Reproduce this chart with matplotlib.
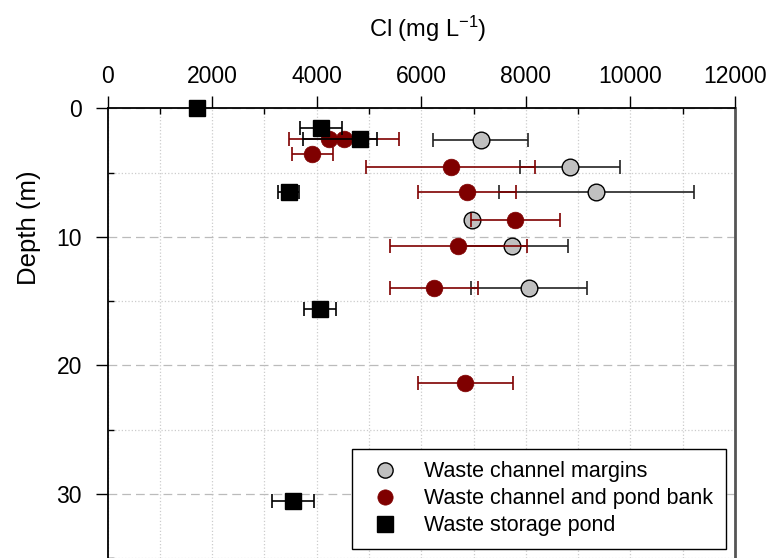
import matplotlib
matplotlib.use("Agg")
import matplotlib.pyplot as plt
from matplotlib.ticker import MultipleLocator

plt.rcParams['font.family'] = ['Liberation Sans', 'DejaVu Sans']
plt.rcParams['mathtext.fontset'] = 'custom'
plt.rcParams['mathtext.rm'] = 'Liberation Sans'
plt.rcParams['mathtext.default'] = 'regular'

# Waste channel margins
margins_cl = [7140, 8850, 9350, 6980, 7740, 8060]
margins_depth = [2.5, 4.55, 6.5, 8.7, 10.75, 14.0]
margins_err = [910, 955, 1865, 0, 1065, 1110]

# Waste channel and pond bank
bank_cl = [4240, 4520, 3920, 6560, 6875, 7795, 6710, 6240, 6840]
bank_depth = [2.4, 2.4, 3.55, 4.55, 6.5, 8.7, 10.75, 14.0, 21.35]
bank_err = [0, 1050, 385, 1620, 930, 850, 1315, 845, 910]

# Waste storage pond
pond_cl = [1710, 4075, 4830, 3465, 4060, 3540]
pond_depth = [0, 1.5, 2.4, 6.5, 15.6, 30.55]
pond_err_lo = [0, 400, 1095, 205, 310, 400]
pond_err_hi = [0, 400, 330, 205, 310, 400]

red = '#7f0000'

fig = plt.figure(figsize=(7.72, 5.58), dpi=100)
ax = fig.add_axes([107.5 / 772, 0, 627.5 / 772, 449.7 / 558])

# error bars first, markers on top
ax.errorbar(margins_cl, margins_depth, xerr=margins_err, fmt='none',
            ecolor='#222222', elinewidth=1.2, capsize=4.7, capthick=1.2, zorder=3)
ax.plot(margins_cl, margins_depth, 'o', ms=12, mfc='#c0c0c0', mec='black',
        mew=1.0, zorder=4, label='Waste channel margins')

ax.errorbar(bank_cl, bank_depth, xerr=bank_err, fmt='none',
            ecolor=red, elinewidth=1.2, capsize=4.7, capthick=1.2, zorder=5)
ax.plot(bank_cl, bank_depth, 'o', ms=12, mfc=red, mec=red,
        mew=0.5, zorder=6, label='Waste channel and pond bank')

ax.errorbar(pond_cl, pond_depth, xerr=[pond_err_lo, pond_err_hi], fmt='none',
            ecolor='black', elinewidth=1.2, capsize=4.7, capthick=1.2, zorder=7)
ax.plot(pond_cl, pond_depth, 's', ms=11, mfc='black', mec='black',
        zorder=8, clip_on=False, label='Waste storage pond')

ax.set_xlim(0, 12000)
ax.set_ylim(35, 0)

ax.xaxis.tick_top()
ax.xaxis.set_label_position('top')
ax.xaxis.set_major_locator(MultipleLocator(2000))
ax.xaxis.set_minor_locator(MultipleLocator(1000))
ax.yaxis.set_major_locator(MultipleLocator(10))
ax.yaxis.set_minor_locator(MultipleLocator(5))

ax.tick_params(which='major', direction='out', length=8.5, width=1.0,
               top=True, bottom=False, left=True, right=False, labelsize=16.5)
ax.tick_params(which='minor', direction='in', length=4.5, width=1.0,
               top=True, bottom=False, left=True, right=False)
ax.tick_params(axis='x', which='major', pad=6)
ax.tick_params(axis='y', which='major', pad=10)

# grid
ax.grid(axis='x', which='both', color='#cccccc', linestyle=':', linewidth=0.9)
ax.grid(axis='y', which='major', color='#bbbbbb', linestyle=(0, (7, 4)), linewidth=0.9)
ax.grid(axis='y', which='minor', color='#cccccc', linestyle=':', linewidth=0.9)
ax.set_axisbelow(True)

ax.spines['bottom'].set_visible(False)
ax.spines['top'].set_linewidth(1.3)
ax.spines['left'].set_linewidth(1.3)
ax.spines['right'].set_color('#555555')
ax.spines['right'].set_linewidth(2.0)

ax.set_xlabel('Cl (mg L$^{-1}$)', fontsize=17)
ax.xaxis.set_label_coords(0.511, 1.1586)
ax.set_ylabel('Depth (m)', fontsize=18.5)
ax.yaxis.set_label_coords(-0.106, 0.734)

leg = ax.legend(loc='lower right', bbox_to_anchor=(0.9857, 0.020), borderaxespad=0,
                fontsize=15.5, numpoints=1, frameon=True, fancybox=False,
                edgecolor='black', framealpha=1, handlelength=1.86,
                handletextpad=0.9, labelspacing=0.27, borderpad=0.6)
leg.get_frame().set_linewidth(1.0)
for h in leg.legend_handles:
    h.set_markersize(11)

fig.savefig('out.png', dpi=100)
